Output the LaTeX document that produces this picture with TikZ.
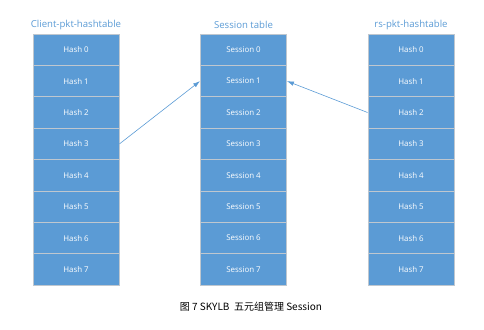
\documentclass[tikz,border=0pt]{standalone}
\usepackage{fontspec}
\setmainfont{Open Sans}
\newfontfamily\cjk{Noto Sans CJK SC}
\usetikzlibrary{arrows.meta}
\definecolor{cellblue}{HTML}{5B9BD5}
\definecolor{titleblue}{HTML}{5B9BD5}
\definecolor{cellline}{HTML}{BFC7CF}
\begin{document}
\begin{tikzpicture}[x=1pt,y=-1pt,
  cell/.style={draw=cellline,line width=0.9pt,fill=cellblue,text=white,minimum width=86pt,minimum height=31.4pt,inner sep=0pt,font=\fontsize{7.9}{9}\selectfont},
  ttl/.style={text=titleblue,font=\fontsize{9.6}{11}\selectfont,inner sep=0pt},
  link/.style={draw=cellblue,line width=0.6pt,-{Latex[length=7pt,width=4.5pt]}}]
\useasboundingbox (0,0) rectangle (484,329);
\foreach \i in {0,...,7}{
  \node[cell] (L\i) at (76,{49.7+31.4*\i}) {Hash \i};
  \node[cell] (S\i) at (243.5,{49.7+31.4*\i}) {Session \i};
  \node[cell] (R\i) at (411,{49.7+31.4*\i}) {Hash \i};
}
\node[ttl] (tl) at (76,25) {Client-pkt-hashtable};
\node[ttl] (ts) at (243.5,25) {Session table};
\node[ttl] (tr) at (411,25) {rs-pkt-hashtable};
\draw[link] (L3.east) -- (S1.west);
\draw[link] (R2.west) -- (S1.east);
\node[inner sep=0pt,font=\cjk\fontsize{10}{12}\selectfont] (cap) at (251,307) {图 7 SKYLB\ \ 五元组管理 Session};
\end{tikzpicture}
\end{document}
